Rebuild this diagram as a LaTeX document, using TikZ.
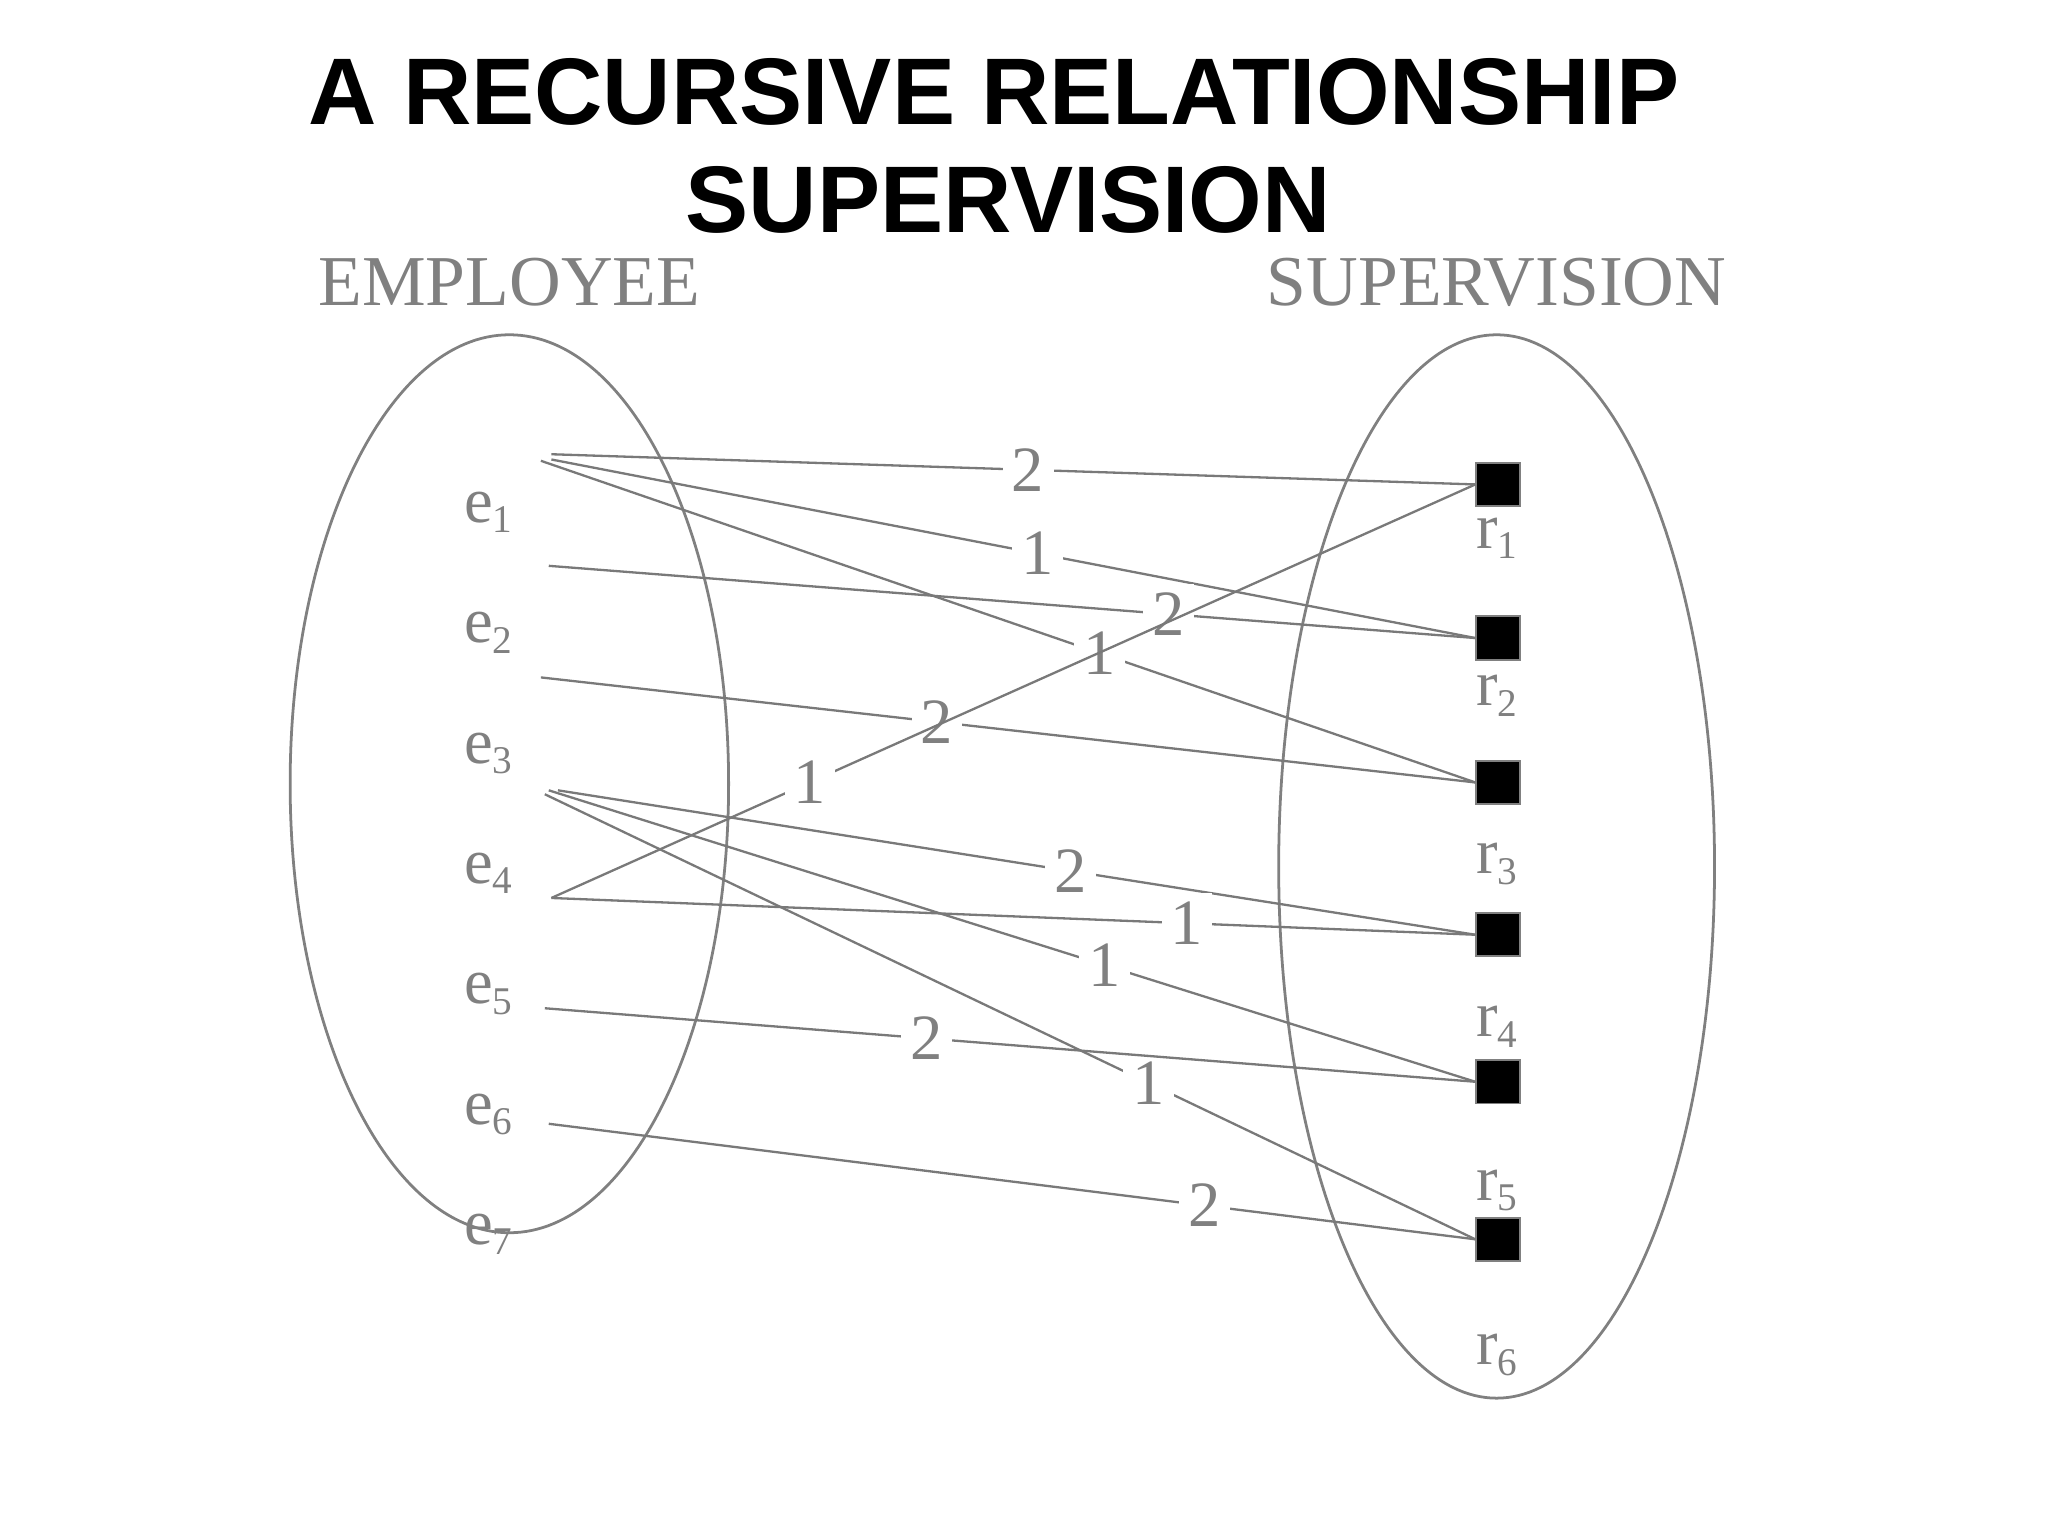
\documentclass[tikz,border=0pt]{standalone}
\usepackage{fontspec}
\setmainfont{Liberation Serif}
\newfontfamily\titlefont{Liberation Sans}
\newcommand{\mysub}[1]{\raisebox{-0.35ex}{\fontsize{8.5}{9}\selectfont #1}}
\begin{document}
\begin{tikzpicture}[x=0.01cm,y=-0.01cm,
  lbl/.style={text=gray,font=\fontsize{14}{16}\selectfont,inner sep=1pt},
  ent/.style={text=gray,font=\fontsize{15.5}{18}\selectfont},
  conn/.style={draw=gray!95!black,line width=0.5pt},
  num/.style={fill=white,text=gray,font=\rmfamily\fontsize{14}{16}\selectfont,inner sep=2pt},
  sq/.style={draw=gray,fill=black,minimum size=0.33cm,inner sep=0pt}]
\useasboundingbox (0,0) rectangle (1560,1170);
\node[font=\titlefont\bfseries\fontsize{20.5}{24}\selectfont] (t1) at (757,70) {A RECURSIVE RELATIONSHIP};
\node[font=\titlefont\bfseries\fontsize{20.5}{24}\selectfont] (t2) at (768,152) {SUPERVISION};
\node[ent] (h1) at (388,215) {EMPLOYEE};
\node[ent] (h2) at (1140,215) {SUPERVISION};
\draw[gray,line width=0.6pt] (388,597) ellipse [x radius=167,y radius=342];
\draw[gray,line width=0.6pt] (1140,660) ellipse [x radius=166,y radius=405];
\foreach \i/\y in {1/390,2/482,3/574,4/665,5/757,6/849,7/940}
  \node[lbl] (e\i) at (372,\y) {e\mysub{\i}};
\foreach \i/\y in {1/369,2/486,3/596,4/712,5/824,6/944}
  \node[sq] (q\i) at (1141,\y) {};
\foreach \i/\y in {1/410,2/530,3/658,4/782,5/907,6/1032}
  \node[lbl] (r\i) at (1140,\y) {r\mysub{\i}};
\coordinate (a1) at (420,346);
\coordinate (a2) at (420,350);
\coordinate (a3) at (412,351);
\coordinate (a4) at (418,431);
\coordinate (a5) at (412,516);
\coordinate (a6) at (420,684);
\coordinate (a7) at (425,602);
\coordinate (a9) at (418,602);
\coordinate (a10) at (415,605);
\coordinate (a11) at (415,768);
\coordinate (a12) at (418,856);
\draw[conn] (a1) -- node[num,pos=0.516] {2} (q1.west);
\draw[conn] (a2) -- node[num,pos=0.526] {1} (q2.west);
\draw[conn] (a3) -- node[num,pos=0.598] {1} (q3.west);
\draw[conn] (a4) -- node[num,pos=0.669] {2} (q2.west);
\draw[conn] (a5) -- node[num,pos=0.424] {2} (q3.west);
\draw[conn] (a6) -- node[num,pos=0.28] {1} (q1.west);
\draw[conn] (a7) -- node[num,pos=0.559] {2} (q4.west);
\draw[conn] (a6) -- node[num,pos=0.688] {1} (q4.west);
\draw[conn] (a9) -- node[num,pos=0.60] {1} (q5.west);
\draw[conn] (a10) -- node[num,pos=0.649] {1} (q6.west);
\draw[conn] (a11) -- node[num,pos=0.41] {2} (q5.west);
\draw[conn] (a12) -- node[num,pos=0.708] {2} (q6.west);
\end{tikzpicture}
\end{document}
